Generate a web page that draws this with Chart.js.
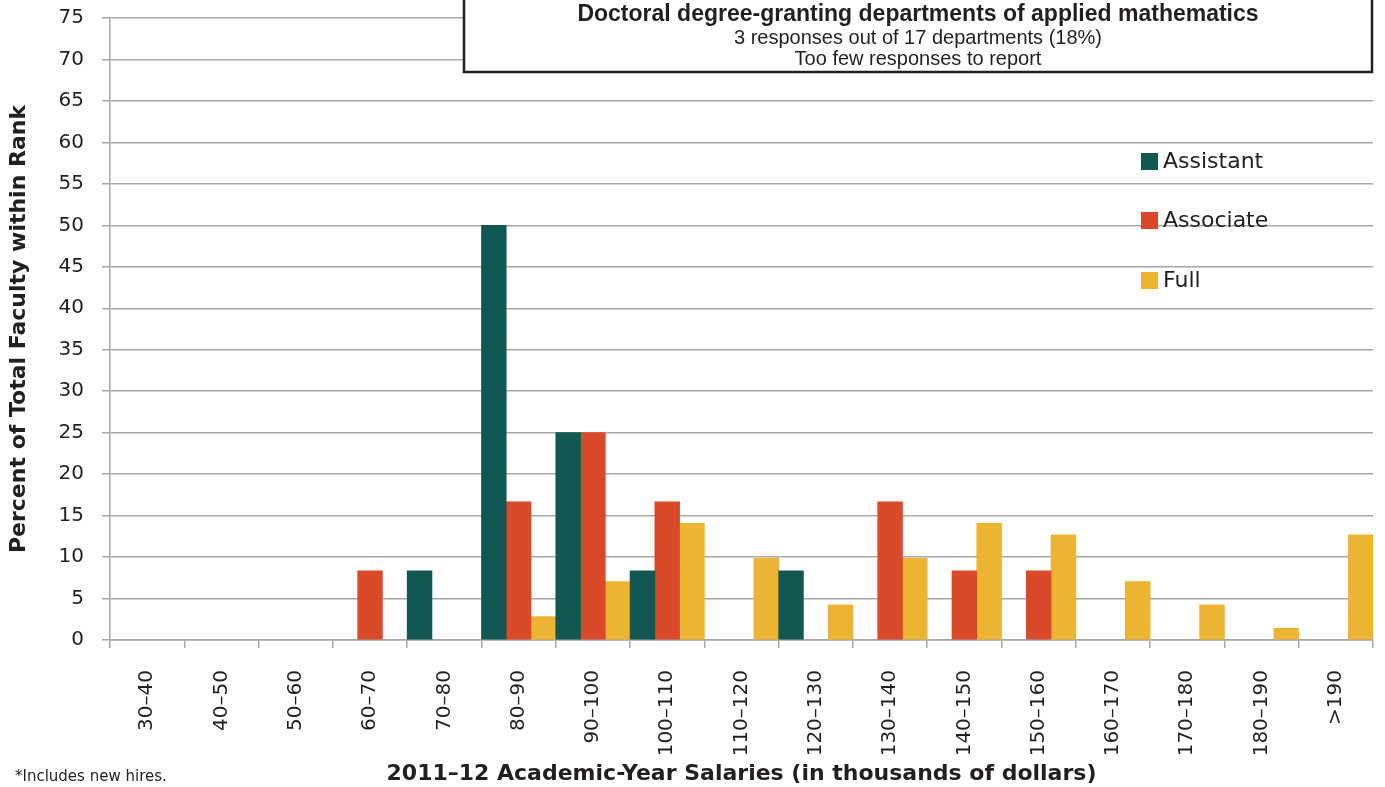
<!DOCTYPE html>
<html>
<head>
<meta charset="utf-8">
<script src="https://cdn.jsdelivr.net/npm/chart.js@4.4.1/dist/chart.umd.min.js"></script>
<style>
  html, body { margin: 0; padding: 0; background: #fff; }
  #wrap { width: 1385px; height: 787px; position: relative; }
</style>
</head>
<body>
<div id="wrap"><canvas id="myChart" width="1385" height="787"></canvas></div>
<script>
const categories = ["30–40", "40–50", "50–60", "60–70", "70–80", "80–90", "90–100", "100–110",
  "110–120", "120–130", "130–140", "140–150", "150–160", "160–170", "170–180", "180–190", ">190"];
const assistant = [null, null, null, null, 8.33, 50, 25, 8.33, null, 8.33, null, null, null, null, null, null, null];
const associate = [null, null, null, 8.33, null, 16.67, 25, 16.67, null, null, 16.67, 8.33, 8.33, null, null, null, null];
const full = [null, null, null, null, null, 2.82, 7.04, 14.08, 9.86, 4.23, 9.86, 14.08, 12.68, 7.04, 4.23, 1.41, 12.68];
const yTicks = [0, 5, 10, 15, 20, 25, 30, 35, 40, 45, 50, 55, 60, 65, 70, 75];

const titleLines = [
  "Doctoral degree-granting departments of applied mathematics",
  "3 responses out of 17 departments (18%)",
  "Too few responses to report"
];
const footnote = "*Includes new hires.";

const gridGray = "#a7a7a9";
const textColor = "#231f20";

// title box, legend and footnote drawn on top of the chart
const extras = {
  id: "extras",
  afterDraw(chart) {
    const ctx = chart.ctx;
    ctx.save();
    // box
    ctx.fillStyle = "#fff";
    ctx.fillRect(463, -5, 910, 77);
    ctx.strokeStyle = "#231f20";
    ctx.lineWidth = 2.5;
    ctx.strokeRect(464, -5, 908, 77);
    ctx.fillStyle = textColor;
    ctx.textAlign = "center";
    ctx.textBaseline = "middle";
    ctx.font = "bold 23px 'Liberation Sans'";
    ctx.fillText(titleLines[0], 918, 15);
    ctx.font = "20px 'Liberation Sans'";
    ctx.fillText(titleLines[1], 918, 38);
    ctx.fillText(titleLines[2], 918, 59);

    // legend
    const rows = [161, 220, 280];
    ctx.textAlign = "left";
    ctx.font = "22px 'DejaVu Sans'";
    chart.data.datasets.forEach((ds, i) => {
      ctx.fillStyle = ds.backgroundColor;
      ctx.fillRect(1141, rows[i] - 8, 17, 17);
      ctx.fillStyle = textColor;
      ctx.fillText(ds.label, 1163, rows[i] + 1);
    });

    // footnote
    ctx.font = "15px 'DejaVu Sans'";
    ctx.fillText(footnote, 15, 777);
    ctx.restore();
  }
};

const myChart = new Chart(document.getElementById("myChart").getContext("2d"), {
  type: "bar",
  data: {
    labels: categories,
    datasets: [
      { label: "Assistant", data: assistant, backgroundColor: "#115853" },
      { label: "Associate", data: associate, backgroundColor: "#d9492a" },
      { label: "Full", data: full, backgroundColor: "#edb434" }
    ]
  },
  options: {
    responsive: false,
    animation: false,
    layout: { padding: { top: 18, right: 12, left: 0, bottom: 0 } },
    datasets: { bar: { barPercentage: 1, categoryPercentage: 1, borderWidth: 0 } },
    plugins: { legend: { display: false }, tooltip: { enabled: false } },
    scales: {
      x: {
        grid: { display: true, drawOnChartArea: false, drawTicks: true, tickLength: 8, color: gridGray, lineWidth: 1.5, offset: true },
        border: { display: true, color: gridGray, width: 1.5 },
        ticks: { minRotation: 90, maxRotation: 90, autoSkip: false, padding: 22, color: textColor, font: { family: "DejaVu Sans", size: 20 } },
        title: {
          display: true,
          text: "2011–12 Academic-Year Salaries (in thousands of dollars)",
          color: textColor,
          font: { family: "DejaVu Sans", size: 22, weight: "bold" },
          padding: { top: 0, bottom: 0 }
        },
        afterFit(scale) { scale.height = 147; scale.paddingLeft = 0; scale.paddingRight = 0; }
      },
      y: {
        min: 0,
        max: 75,
        afterBuildTicks(scale) { scale.ticks = yTicks.map(v => ({ value: v })); },
        grid: { color: gridGray, lineWidth: 1.5, tickLength: 8 },
        border: { display: true, color: gridGray, width: 1.5 },
        ticks: { padding: 18, color: textColor, font: { family: "DejaVu Sans", size: 20 } },
        title: {
          display: true,
          text: "Percent of Total Faculty within Rank",
          color: textColor,
          font: { family: "DejaVu Sans", size: 22, weight: "bold" },
          padding: { top: 6, bottom: 0 }
        },
        afterFit(scale) { scale.width = 110; scale.paddingTop = 0; scale.paddingBottom = 0; }
      }
    }
  },
  plugins: [extras]
});
</script>
</body>
</html>
